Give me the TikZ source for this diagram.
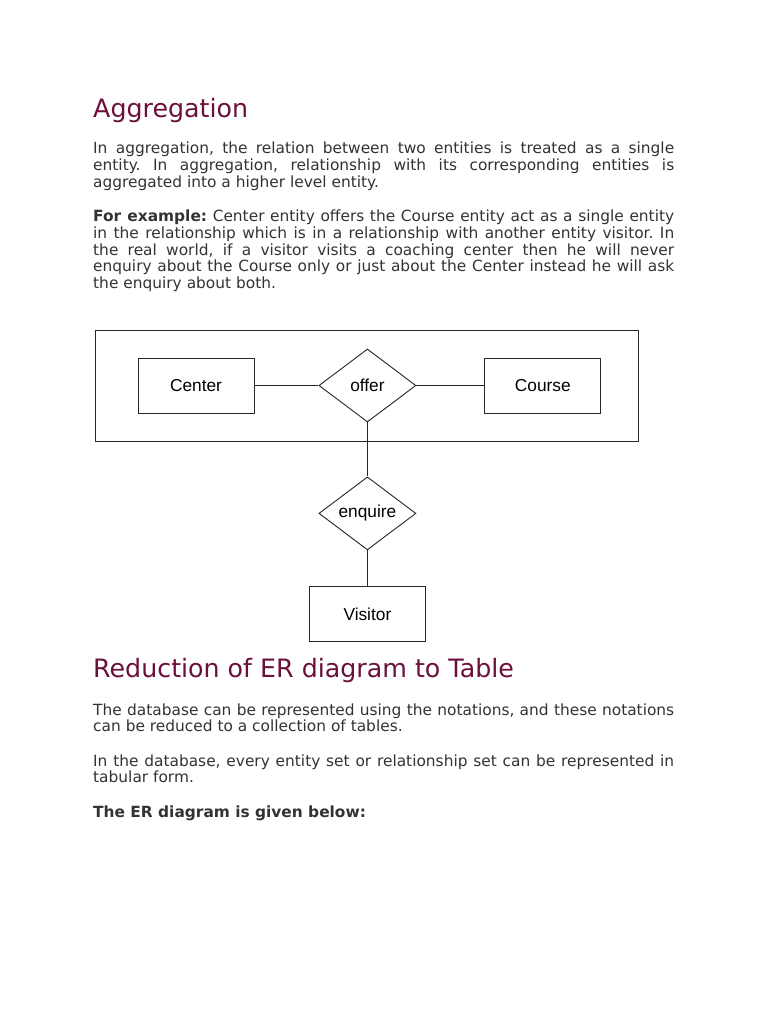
\documentclass[tikz,border=0pt]{standalone}
\usepackage{fontspec}
\setmainfont{DejaVu Sans}
\newfontfamily\erfont{Liberation Sans}
\usetikzlibrary{shapes.geometric,positioning}
\definecolor{headred}{HTML}{6B0F3C}
\definecolor{bodygray}{HTML}{333333}
\hyphenpenalty=10000
\exhyphenpenalty=10000
\frenchspacing

\begin{document}
\begin{tikzpicture}[x=1pt, y=-1pt,
  head/.style={anchor=base west, inner sep=0pt, text=headred, font=\fontsize{25.3}{30}\selectfont},
  para/.style={anchor=base west, inner sep=0pt, text width=581pt, align=justify, text=bodygray, font=\fontsize{15.4}{16.8}\selectfont},
  ent/.style={draw=black!85, line width=0.9pt, minimum width=116pt, minimum height=55pt, inner sep=0pt, font=\erfont\fontsize{17.3}{20}\selectfont},
  rel/.style={draw=black!85, line width=0.9pt, diamond, aspect=1.33, minimum width=97pt, minimum height=73pt, inner sep=0pt, font=\erfont\fontsize{17.3}{20}\selectfont},
  agg/.style={draw=black!85, line width=0.9pt, minimum width=543pt, minimum height=111pt, inner sep=0pt},
  ln/.style={draw=black!85, line width=0.9pt}
]
\useasboundingbox (0,0) rectangle (768,1024);
\fill[white] (0,0) rectangle (768,1024);

% text above the diagram
\node[head] (h1) at (93,117.3) {Aggregation};
\node[para] (p1) at (93,154) {In aggregation, the relation between two entities is treated as a single\linebreak entity. In aggregation, relationship with its corresponding entities is\linebreak aggregated into a higher level entity.};
\node[para] (p2) at (93,221.5) {\textbf{For example:} Center entity offers the Course entity act as a single entity\linebreak in the relationship which is in a relationship with another entity visitor. In\linebreak the real world, if a visitor visits a coaching center then he will never\linebreak enquiry about the Course only or just about the Center instead he will ask\linebreak the enquiry about both.};

% aggregation diagram
\node[agg] (agg) at (366.5,385.5) {};
\node[ent] (center) at (196,385.5) {Center};
\node[rel, right=64pt of center] (offer) {offer};
\node[ent, right=68pt of offer] (course) {Course};
\node[rel, below=54pt of offer] (enquire) {enquire};
\node[ent, below=36pt of enquire] (visitor) {Visitor};

\draw[ln] (center) -- (offer);
\draw[ln] (offer) -- (course);
\draw[ln] (offer) -- (enquire);
\draw[ln] (enquire) -- (visitor);

% text below the diagram
\node[head] (h2) at (93,677.3) {Reduction of ER diagram to Table};
\node[para] (p3) at (93,715) {The database can be represented using the notations, and these notations\linebreak can be reduced to a collection of tables.};
\node[para] (p4) at (93,766) {In the database, every entity set or relationship set can be represented in\linebreak tabular form.};
\node[para] (p5) at (93,817) {\textbf{The ER diagram is given below:}};

\end{tikzpicture}
\end{document}
